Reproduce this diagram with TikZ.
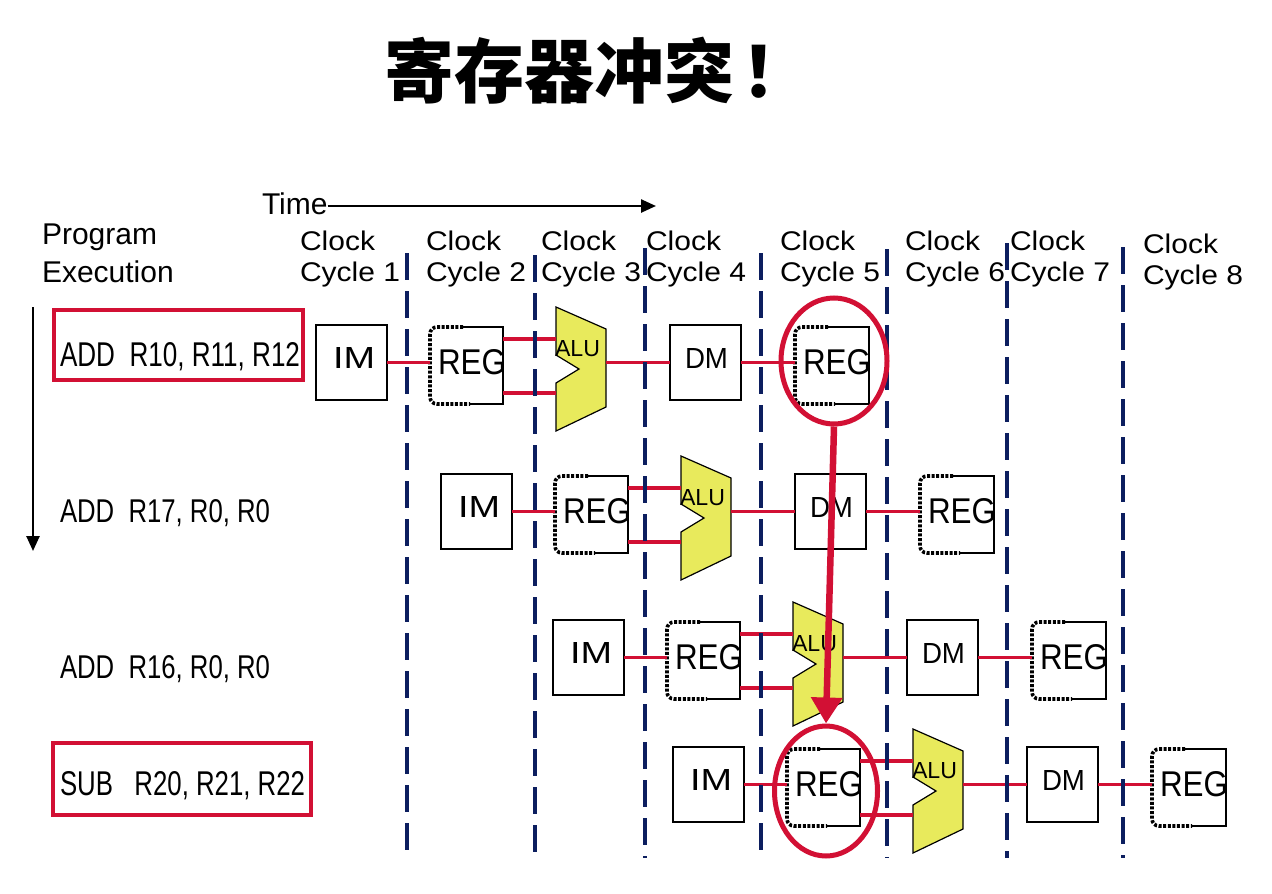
\documentclass[tikz,border=0pt]{standalone}
\usepackage{fontspec}
\usepackage{graphicx}
\setmainfont{Liberation Sans}
\newfontfamily\cjk{Noto Sans CJK SC}
\usetikzlibrary{arrows.meta,calc,shapes.geometric}
\definecolor{cred}{RGB}{210,16,52}
\definecolor{navy}{RGB}{12,30,95}
\definecolor{aluy}{RGB}{232,234,92}
\newcommand\hfont{\fontsize{30pt}{30pt}\selectfont}
\tikzset{
  redline/.style={draw=cred, line width=3.5pt},
  navyline/.style={draw=navy, line width=3.5pt, dash pattern=on 27pt off 11pt},
  unit/.style={anchor=north west, inner sep=0pt, outer sep=0pt},
  plainbox/.style={unit, draw=black, line width=1.3pt, fill=white},
  regbox/.style={unit, fill=white},
  regsolid/.style={draw=black, line width=2.6pt},
  regdot/.style={draw=black, line width=3.6pt, dash pattern=on 3pt off 1.6pt, rounded corners=7pt},
  alushape/.style={draw=black, line width=1.2pt, fill=aluy, line join=miter},
  lbl/.style={anchor=base west, inner sep=0pt, outer sep=0pt},
  ring/.style={draw=cred, line width=5pt, ellipse, inner sep=0pt},
  instbox/.style={unit, draw=cred, line width=4pt},
}
\newcommand\regparts[1]{%
  \begin{scope}
    \clip (#1.north west) rectangle (#1.south east);
    \node[lbl] (#1t) at ($(#1.north west)+(8,47)$) {\resizebox{68pt}{25pt}{REG}};
  \end{scope}
  \draw[regsolid] ($(#1.north west)+(33,0)$) -- (#1.north east) -- (#1.south east) -- ($(#1.south west)+(40,0)$);
  \draw[regdot] ($(#1.north west)+(33,0)$) -- (#1.north west) -- (#1.south west) -- ($(#1.south west)+(40,0)$);
}
\newcommand\pipe[3]{%
  \node[plainbox, minimum width=71pt, minimum height=75pt] (#1im) at ({#2},{#3}) {};
  \node[lbl] (#1imt) at ($(#1im.north west)+(17,43)$) {\resizebox{42pt}{21pt}{IM}};
  \node[regbox, minimum width=73pt, minimum height=77pt] (#1rA) at ({#2+114},{#3+2}) {};
  \regparts{#1rA}
  \node[unit, minimum width=50pt, minimum height=124pt] (#1alu) at ({#2+240},{#3-18}) {};
  \draw[alushape] (#1alu.north west) -- ++(50,22) -- ++(0,78) -- ++(-50,24) -- ++(0,-48) -- ++(23,-14) -- ++(-23,-14) -- cycle;
  \node[lbl] (#1alut) at ($(#1alu.north west)+(-1,49)$) {\resizebox{45pt}{16pt}{ALU}};
  \node[plainbox, minimum width=71pt, minimum height=75pt] (#1dm) at ({#2+354},{#3}) {};
  \node[lbl] (#1dmt) at ($(#1dm.north west)+(15,43)$) {\resizebox{43pt}{20pt}{DM}};
  \node[regbox, minimum width=74pt, minimum height=77pt] (#1rB) at ({#2+479},{#3+2}) {};
  \regparts{#1rB}
  \coordinate (#1u) at (0,{#3+14});
  \coordinate (#1d) at (0,{#3+68});
  \draw[redline] (#1im.east) -- (#1im.east -| #1rA.west);
  \draw[redline] (#1rA.east |- #1u) -- (#1alu.west |- #1u);
  \draw[redline] (#1rA.east |- #1d) -- (#1alu.west |- #1d);
  \draw[redline] (#1alu.east |- #1dm.west) -- (#1dm.west);
  \draw[redline] (#1dm.east) -- (#1dm.east -| #1rB.west);
}
\begin{document}
\begin{tikzpicture}[x=1pt,y=-1pt]
\fill[white] (0,0) rectangle (1272,894);
\useasboundingbox (0,0) rectangle (1272,894);
% title
\node[lbl] (title) at (384,97) {\cjk\bfseries\fontsize{70pt}{70pt}\selectfont 寄存器冲突\hspace{8pt}！};
% time arrow
\node[lbl] (time) at (262,214) {\hfont Time};
\coordinate (timeend) at (656,206);
\draw[line width=2.5pt, -{Triangle[length=15pt,width=13pt]}] (time.east |- timeend) -- (timeend);
% program execution
\node[lbl] (prog) at (42,244) {\hfont Program};
\node[lbl] (exec) at (42,282) {\hfont Execution};
\coordinate (pa) at (33,307);
\coordinate (pb) at (33,551);
\draw[line width=2.5pt, -{Triangle[length=15pt,width=13pt]}] (pa) -- (pb);
% clock headers
\foreach \x/\n/\b in {300/1/250, 426/2/250, 541/3/250, 646/4/250, 780/5/250, 905/6/250, 1010/7/250, 1143/8/253}{
  \node[lbl] (cka\n) at (\x,\b) {\hfont\scalebox{1}[0.9]{Clock}};
  \node[lbl] (ckb\n) at (\x,{\b+31}) {\hfont\scalebox{1}[0.9]{Cycle \n}};
}
% instruction labels
\node[instbox, minimum width=249pt, minimum height=70pt] (ib1) at (54,310) {};
\node[instbox, minimum width=258pt, minimum height=72pt] (ib2) at (53,743) {};
\node[lbl] (ins1) at (60,366) {\resizebox{240pt}{24pt}{ADD\ \ R10, R11, R12}};
\node[lbl] (ins2) at (60,522) {\resizebox{210pt}{23pt}{ADD\ \ R17, R0, R0}};
\node[lbl] (ins3) at (60,678) {\resizebox{210pt}{23pt}{ADD\ \ R16, R0, R0}};
\node[lbl] (ins4) at (60,795) {\resizebox{245pt}{24pt}{SUB\ \ \ R20, R21, R22}};
% pipeline rows
\pipe{ra}{316}{325}
\pipe{rb}{441}{474}
\pipe{rc}{553}{620}
\pipe{rd}{673}{747}
% clock cycle separators
\foreach \x/\t in {407/253, 535/255, 645/248, 761/253, 887/249, 1007/243, 1123/247}{
  \draw[navyline] (\x,\t) -- (\x,858);
}
% hazard marks
\node[ring, minimum width=106pt, minimum height=126pt] (e1) at (834,361) {};
\node[ring, minimum width=103pt, minimum height=130pt] (e2) at (826,791) {};
\draw[cred, line width=6.5pt, -{Triangle[length=26pt,width=30pt]}] (e1.south) -- (e2.north);
\end{tikzpicture}
\end{document}
